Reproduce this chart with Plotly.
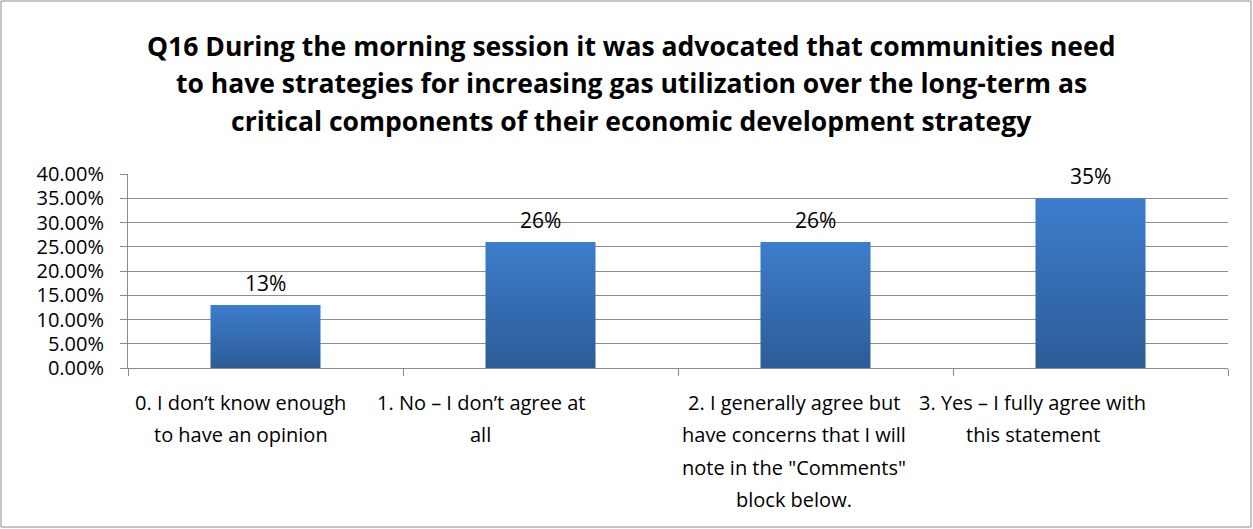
import plotly.graph_objects as go

# Survey question and responses
title_lines = [
    "Q16 During the morning session it was advocated that communities need",
    "to have strategies for increasing gas utilization over the long-term as",
    "critical components of their economic development strategy",
]
categories = [
    ["0. I don\u2019t know enough", "to have an opinion"],
    ["1. No \u2013 I don\u2019t agree at", "all"],
    ["2. I generally agree but", "have concerns that I will", "note in the \"Comments\"", "block below."],
    ["3. Yes \u2013 I fully agree with", "this statement"],
]
shares = [0.13, 0.26, 0.26, 0.35]
value_labels = ["13%", "26%", "26%", "35%"]
y_ticks = [0.0, 0.05, 0.10, 0.15, 0.20, 0.25, 0.30, 0.35, 0.40]

W, H = 1253, 529
ML, MR, MT, MB = 128, 25, 174, 161
PW, PH = W - ML - MR, H - MT - MB

FONT = "Open Sans"
GRID = "#8c8c8c"
BAR_HALF = 0.2


def py(px_y):
    """Pixel row -> paper y."""
    return (H - MB - px_y) / PH


def px(px_x):
    """Pixel column -> paper x."""
    return (px_x - ML) / PW


fig = go.Figure()

# Bars drawn as filled rectangles with a vertical gradient
for i, v in enumerate(shares):
    fig.add_trace(go.Scatter(
        x=[i - BAR_HALF, i + BAR_HALF, i + BAR_HALF, i - BAR_HALF, i - BAR_HALF],
        y=[0, 0, v, v, 0],
        mode="lines",
        line=dict(width=0, color="#3570b5"),
        fill="toself",
        fillgradient=dict(type="vertical",
                          colorscale=[[0, "#2c5c97"], [1, "#3d7dcc"]]),
        hoverinfo="skip",
        showlegend=False,
    ))

annotations = []

# Value labels above each bar
for i, (v, lab) in enumerate(zip(shares, value_labels)):
    annotations.append(dict(
        x=i, y=v, xref="x", yref="y", text=lab, showarrow=False,
        yanchor="bottom", yshift=6,
        font=dict(family=FONT, size=21, color="#000000"),
    ))

# Category labels, one annotation per wrapped line
label_xshift = [-25, -60, -22, -58]
line_rows = [402, 434, 467, 499]
for i, lines in enumerate(categories):
    for j, line in enumerate(lines):
        annotations.append(dict(
            x=i, y=py(line_rows[j]), xref="x", yref="paper", text=line,
            showarrow=False, xanchor="center", yanchor="middle",
            xshift=label_xshift[i],
            font=dict(family=FONT, size=20, color="#000000"),
        ))

# Title, one annotation per line
title_rows = [46, 83, 121]
for j, line in enumerate(title_lines):
    annotations.append(dict(
        x=px(631), y=py(title_rows[j]), xref="paper", yref="paper",
        text="<b>" + line + "</b>", showarrow=False,
        xanchor="center", yanchor="middle",
        font=dict(family=FONT, size=26.5, color="#000000"),
    ))

# Outer chart frame
shapes = [dict(
    type="rect", xref="paper", yref="paper",
    x0=px(1), x1=px(W - 2), y0=py(H - 2), y1=py(1),
    line=dict(color="#8a8a8a", width=1), fillcolor="rgba(0,0,0,0)",
    layer="below",
)]

fig.update_layout(
    width=W, height=H,
    margin=dict(l=ML, r=MR, t=MT, b=MB, pad=0),
    paper_bgcolor="white", plot_bgcolor="white",
    showlegend=False,
    annotations=annotations,
    shapes=shapes,
    xaxis=dict(
        range=[-0.5, 3.5], showgrid=False, zeroline=False,
        tickmode="array", tickvals=[-0.5, 0.5, 1.5, 2.5, 3.5],
        ticktext=["", "", "", "", ""],
        ticks="outside", ticklen=7, tickcolor=GRID, tickwidth=1,
        showline=True, linecolor=GRID, linewidth=1,
        fixedrange=True,
    ),
    yaxis=dict(
        range=[0, 0.40], tickmode="array", tickvals=y_ticks,
        tickformat=".2%", showgrid=True, gridcolor=GRID, gridwidth=1,
        zeroline=False, ticks="outside", ticklen=7, tickcolor=GRID,
        showline=True, linecolor=GRID, linewidth=1,
        tickfont=dict(family=FONT, size=20, color="#000000"),
        ticklabelstandoff=12,
        fixedrange=True,
    ),
)

fig.write_html("out.html", config={"displayModeBar": False})
